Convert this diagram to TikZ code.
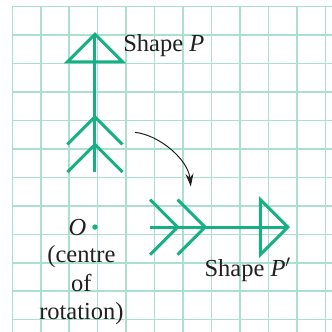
\documentclass[tikz,border=0pt]{standalone}
\usepackage{fontspec}
\setmainfont{Liberation Serif}
\usetikzlibrary{arrows.meta}
\definecolor{gridgreen}{RGB}{170,224,205}
\definecolor{shapegreen}{RGB}{22,176,132}
\definecolor{inkdark}{RGB}{35,31,32}
\begin{document}
\begin{tikzpicture}[x=1pt,y=-1pt,
  gridline/.style={draw=gridgreen,line width=1.5pt},
  shapeline/.style={draw=shapegreen,line width=3pt,line join=miter},
  lbl/.style={inner sep=0pt,text=inkdark,font=\fontsize{24.5}{28}\selectfont},
  turnarrow/.style={draw=inkdark,line width=1pt,-{Stealth[length=13pt,width=8pt]}}]
\useasboundingbox (0,0) rectangle (332,332);
\clip (0,0) rectangle (332,332);
\begin{scope}[shift={(12.3,6.7)},x=27.55pt,y=-27.55pt]
  \draw[gridline] (0,0) grid (11.8,11.8);
  % Shape P
  \coordinate (ptip) at (3,1);
  \coordinate (pbl) at (2,2);
  \coordinate (pbr) at (4,2);
  \coordinate (pc1) at (3,4);
  \coordinate (pc1l) at (2,5);
  \coordinate (pc1r) at (4,5);
  \coordinate (pc2) at (3,5);
  \coordinate (pc2l) at (2,6);
  \coordinate (pc2r) at (4,6);
  \coordinate (pend) at (3,6);
  \draw[shapeline] (pbl) -- (ptip) -- (pbr) -- cycle;
  \draw[shapeline] (ptip) -- (pend);
  \draw[shapeline] (pc1l) -- (pc1) -- (pc1r);
  \draw[shapeline] (pc2l) -- (pc2) -- (pc2r);
  % Shape P'
  \coordinate (qtip) at (10,8);
  \coordinate (qbt) at (9,7);
  \coordinate (qbb) at (9,9);
  \coordinate (qc1) at (7,8);
  \coordinate (qc1t) at (6,7);
  \coordinate (qc1b) at (6,9);
  \coordinate (qc2) at (6,8);
  \coordinate (qc2t) at (5,7);
  \coordinate (qc2b) at (5,9);
  \coordinate (qend) at (5,8);
  \draw[shapeline] (qbt) -- (qtip) -- (qbb) -- cycle;
  \draw[shapeline] (qtip) -- (qend);
  \draw[shapeline] (qc1t) -- (qc1) -- (qc1b);
  \draw[shapeline] (qc2t) -- (qc2) -- (qc2b);
  % centre O
  \fill[shapegreen] (3,8) circle[radius=2.7pt];
  \node[lbl,anchor=base] (olbl) at (2.37,8.29) {\textit{O}};
  \node[lbl,anchor=base] (centre1) at (2.51,9.30) {(centre};
  \node[lbl,anchor=base] (centre2) at (2.51,10.32) {of};
  \node[lbl,anchor=base] (centre3) at (2.51,11.34) {rotation)};
  % labels
  \node[lbl,anchor=base west] (plbl) at (4.02,1.64) {Shape \textit{P}};
  \node[lbl,anchor=base west] (qlbl) at (6.97,9.81) {Shape \textit{P}$'$};
  % arrow
  \coordinate (astart) at (4.45,4.56);
  \coordinate (aend) at (6.48,6.53);
  \draw[turnarrow] (astart) .. controls (5.36,4.66) and (6.38,5.56) .. (aend);
\end{scope}
\end{tikzpicture}
\end{document}
